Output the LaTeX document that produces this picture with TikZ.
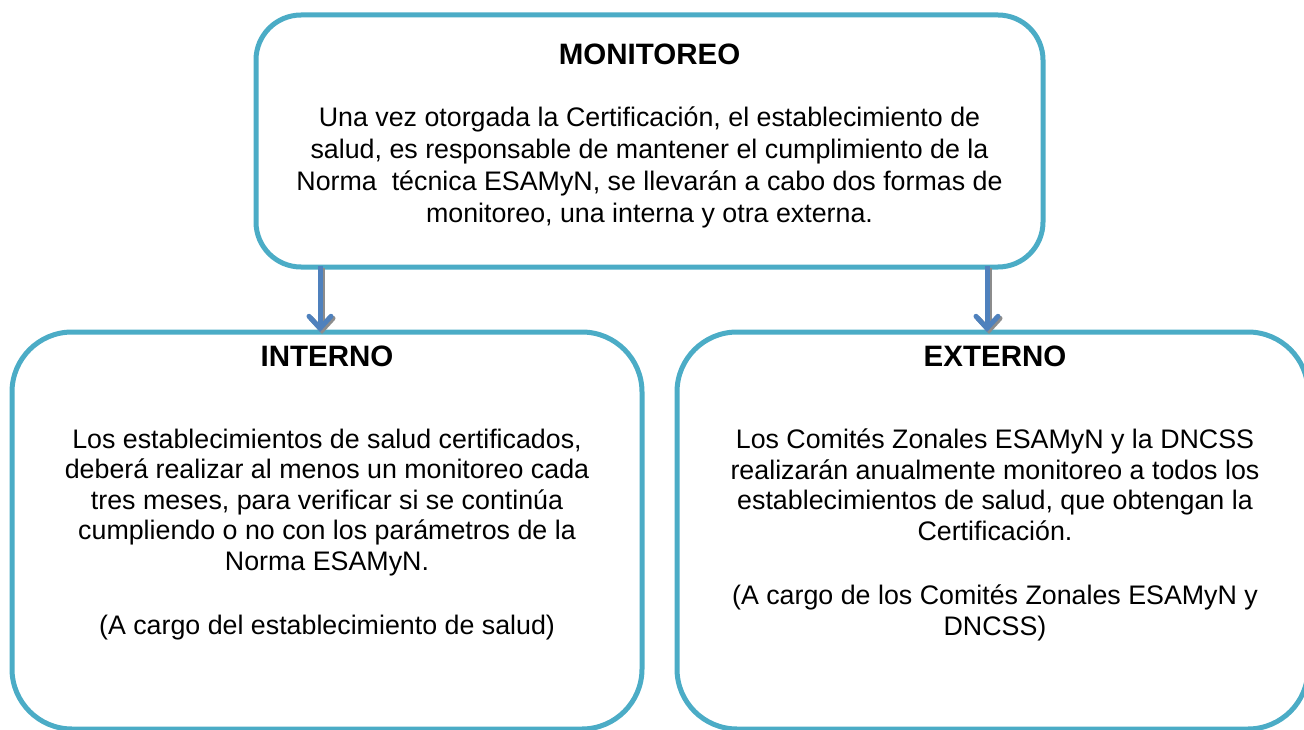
\documentclass[tikz,border=0pt]{standalone}
\usepackage{fontspec}
\setmainfont{Liberation Sans}
\usetikzlibrary{arrows.meta}
\definecolor{boxblue}{HTML}{4BACC6}
\definecolor{arrowblue}{HTML}{4F81BD}
\begin{document}
\begin{tikzpicture}[x=1pt,y=-1pt,
  box/.style={draw=boxblue,line width=5pt,fill=white,inner sep=0pt},
  ttl/.style={font=\fontsize{29.5}{34}\selectfont\bfseries,anchor=base},
  body/.style={font=\fontsize{26.8}{32}\selectfont,align=center,anchor=north},
  conn/.style={draw=arrowblue,line width=5pt,-{Straight Barb[length=12pt,width=22pt,line cap=round]}},
  shadowconn/.style={draw=black!45,line width=5pt,-{Straight Barb[length=12pt,width=22pt,line cap=round]}}
]
\useasboundingbox (0,0) rectangle (1304,730);
\node[box,rounded corners=45pt,minimum width=787pt,minimum height=252pt] (top) at (649.5,141) {};
\node[box,rounded corners=60pt,minimum width=630pt,minimum height=397pt] (left) at (327,530.5) {};
\node[box,rounded corners=60pt,minimum width=631pt,minimum height=397pt] (right) at (992.5,530.5) {};

\node[ttl] (tt) at (649.5,65) {MONITOREO};
\node[body] (tb) at (649.5,103.5) {Una vez otorgada la Certificación, el establecimiento de\\salud, es responsable de mantener el cumplimiento de la\\Norma\ \ técnica ESAMyN, se llevarán a cabo dos formas de\\monitoreo, una interna y otra externa.};

\node[ttl] (lt) at (327,366) {INTERNO};
\node[body,font=\fontsize{26.8}{30.5}\selectfont] (lb) at (327,425.5) {Los establecimientos de salud certificados,\\deberá realizar al menos un monitoreo cada\\tres meses, para verificar si se continúa\\cumpliendo o no con los parámetros de la\\Norma ESAMyN.\\[34pt](A cargo del establecimiento de salud)};

\node[ttl] (rt) at (995,366) {EXTERNO};
\node[body,font=\fontsize{26.8}{30.5}\selectfont] (rb) at (995,425.5) {Los Comités Zonales ESAMyN y la DNCSS\\realizarán anualmente monitoreo a todos los\\establecimientos de salud, que obtengan la\\Certificación.\\[34pt](A cargo de los Comités Zonales ESAMyN y\\DNCSS)};

\coordinate (a1s) at (320,266);
\coordinate (a1e) at (320,332);
\coordinate (a2s) at (987,266);
\coordinate (a2e) at (987,332);
\draw[shadowconn] ([shift={(2pt,-2pt)}]a1s) -- ([shift={(2pt,-2pt)}]a1e);
\draw[shadowconn] ([shift={(2pt,-2pt)}]a2s) -- ([shift={(2pt,-2pt)}]a2e);
\draw[conn] (a1s) -- (a1e);
\draw[conn] (a2s) -- (a2e);
\end{tikzpicture}
\end{document}
